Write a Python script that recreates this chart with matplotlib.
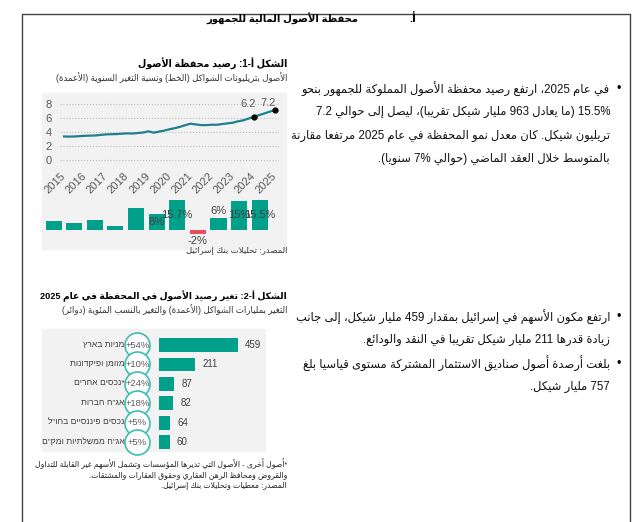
import re
import unicodedata as ud

import matplotlib
matplotlib.use('Agg')
import matplotlib.pyplot as plt
import numpy as np
from matplotlib import transforms
from matplotlib.lines import Line2D
from matplotlib.patches import Rectangle

plt.rcParams['font.family'] = ['Liberation Sans', 'DejaVu Sans']

# ---- data: figure A-1 (portfolio balance, trillion NIS, quarterly) ----
years = list(range(2015, 2026))
line_t = np.arange(2015, 2025.01, 0.25)
line_vals = [3.35, 3.33, 3.35, 3.40,
             3.45, 3.47, 3.50, 3.58,
             3.65, 3.68, 3.70, 3.76,
             3.80, 3.78, 3.85, 3.92,
             4.10, 3.90, 4.05, 4.20,
             4.40, 4.55, 4.75, 5.00,
             5.20, 5.10, 5.00, 5.00,
             5.05, 5.05, 5.15, 5.25,
             5.35, 5.55, 5.70, 5.95,
             6.20, 6.45, 6.70, 6.95,
             7.20]
marked_years = [2024, 2025]
marked_vals = [6.2, 7.2]
growth = [4.5, 3.5, 5.2, 2.0, 11.2, 8, 15.7, -2, 6, 15, 15.5]
growth_labels = ['', '', '', '', '', '8%', '15.7%', '-2%', '6%', '15%', '15.5%']

# ---- data: figure A-2 (change in 2025) ----
cats = ['מניות בארץ', 'מזומן ופיקדונות', 'נכסים אחרים', 'אג"ח חברות',
        'נכסים פיננסיים בחו"ל', 'אג"ח ממשלתיות ומק"ם']
cat_star = ['', '', '*', '', '', '']
change_bn = [459, 211, 87, 82, 64, 60]
change_pct = ['+54%', '+10%', '+24%', '+18%', '+5%', '+5%']

# ---- texts ----
header_no = 'أ.'
header = 'محفظة الأصول المالية للجمهور'
t1 = 'الشكل أ-1: رصيد محفظة الأصول'
s1 = 'الأصول بتريليونات الشواكل (الخط) ونسبة التغير السنوية (الأعمدة)'
src1 = 'المصدر: تحليلات بنك إسرائيل'
t2 = 'الشكل أ-2: تغير رصيد الأصول في المحفظة في عام 2025'
s2 = 'التغير بمليارات الشواكل (الأعمدة) والتغير بالنسب المئوية (دوائر)'
notes2 = ['*أصول أخرى - الأصول التي تديرها المؤسسات وتشمل الأسهم غير القابلة للتداول',
          'والقروض ومحافظ الرهن العقاري وحقوق العقارات والمشتقات.',
          'المصدر: معطيات وتحليلات بنك إسرائيل.']
para1 = ['في عام 2025، ارتفع رصيد محفظة الأصول المملوكة للجمهور بنحو',
         '15.5% (ما يعادل 963 مليار شيكل تقرَيباً)، ليصل إلى حوالي 7.2',
         'تريليون شيكل. كان معدل نمو المحفظة في عام 2025 مرتفعاً مقارنة',
         'بالمتوسط خلال العقد الماضي (حوالي 7% سنوياً).']
para2 = ['ارتفع مكون الأسهم في إسرائيل بمقدار 459 مليار شيكل، إلى جانب',
         'زيادة قدرها 211 مليار شيكل تقريباً في النقد والودائع.']
para3 = ['بلغت أرصدة أصول صناديق الاستثمار المشتركة مستوى قياسياً بلغ',
         '757 مليار شيكل.']

# arabic shaping (presentation forms) + simple right-to-left ordering
FORMS, LIGS = {}, {}
for cp in range(0xFE70, 0xFEFD):
    d = ud.decomposition(chr(cp)).split()
    if len(d) < 2 or not d[0].startswith('<'):
        continue
    base = ''.join(chr(int(h, 16)) for h in d[1:])
    (FORMS if len(base) == 1 else LIGS).setdefault(base, {})[d[0][1:-1]] = chr(cp)


def shape(s):
    s = [c for c in s if ud.category(c) != 'Mn']
    dual = lambda c: c in FORMS and 'initial' in FORMS[c]
    joins = lambda c: c in FORMS and 'final' in FORMS[c]
    out, i = [], 0
    while i < len(s):
        c = s[i]
        if c not in FORMS:
            out.append(c)
            i += 1
            continue
        p = i > 0 and dual(s[i - 1]) and joins(c)
        if c == 'ل' and i + 1 < len(s) and ('ل' + s[i + 1]) in LIGS:
            out.append(LIGS['ل' + s[i + 1]]['final' if p else 'isolated'])
            i += 2
            continue
        n = i + 1 < len(s) and dual(c) and joins(s[i + 1])
        form = {(1, 1): 'medial', (1, 0): 'final', (0, 1): 'initial', (0, 0): 'isolated'}[(int(p), int(n))]
        out.append(FORMS[c].get(form, FORMS[c]['isolated']))
        i += 1
    return ''.join(out)


NUM = r'\d+(?:[.,]\d+)*%?'
MIRROR = str.maketrans('()', ')(')


def rtl(s):
    parts = re.split('(' + NUM + ')', s)
    return ''.join(p if re.fullmatch(NUM, p) else shape(p)[::-1].translate(MIRROR)
                   for p in reversed(parts))


W, H = 640, 522
fig = plt.figure(figsize=(W / 100, H / 100), dpi=100)


def fx(x):
    return x / W


def fy(y):
    return 1 - y / H


def box(x0, y0, x1, y1):
    return [fx(x0), fy(y1), (x1 - x0) / W, (y1 - y0) / H]


def txt(x, y, s, **kw):
    kw.setdefault('ha', 'right')
    kw.setdefault('va', 'center')
    fig.text(fx(x), fy(y), rtl(s), **kw)


grey = '#595959'
teal = '#00a08a'

# page frame
fig.add_artist(Line2D([fx(22), fx(22), fx(630), fx(630)], [0, fy(14), fy(14), 0],
                      color='#444444', lw=1, transform=fig.transFigure))
txt(416, 19, header_no, fontsize=8, fontweight='bold')
txt(358, 19, header, fontsize=7.2, fontweight='bold')

# text column
for lines, y0 in [(para1, 89), (para2, 317), (para3, 364)]:
    txt(621, y0, '•', fontsize=9)
    for k, line in enumerate(lines):
        txt(610, y0 + k * 23.3, line, fontsize=8.3, color='#111111')

# ---- figure A-1 ----
txt(287, 64, t1, fontsize=6.9, fontweight='bold')
txt(287, 78, s1, fontsize=6.2, color='#333333')
fig.add_artist(Rectangle((fx(42), fy(249)), (286 - 42) / W, (249 - 93) / H,
                         transform=fig.transFigure, color='#f2f2f2', zorder=0))

ax1 = fig.add_axes(box(59.8, 101, 279.2, 161.6))
ax1.set_facecolor('none')
ax1.plot(line_t, line_vals, color='#1f7f8f', lw=1.6)
ax1.scatter(marked_years, marked_vals, color='black', s=12, zorder=3)
for xv, yv, dx, dy in zip(marked_years, marked_vals, [-6, -7], [13, 7]):
    ax1.annotate(f'{yv:.1f}', (xv, yv), xytext=(dx, dy), textcoords='offset pixels',
                 ha='center', va='center', fontsize=8, color=grey)
ax1.set_xlim(2014.8, 2025.2)
ax1.set_ylim(-0.3, 8.5)
ax1.set_yticks([0, 2, 4, 6, 8])
ax1.set_xticks(years)
ax1.set_xticklabels(years, rotation=45, ha='right', va='center', rotation_mode='anchor')
ax1.tick_params(length=0, labelsize=8, labelcolor=grey)
ax1.tick_params(axis='x', pad=9)
ax1.tick_params(axis='y', pad=6)
ax1.grid(axis='y', linestyle=':', color='#bdbdbd', lw=0.8)
ax1.grid(axis='x', visible=False)
for sp in ax1.spines.values():
    sp.set_visible(False)

ax2 = fig.add_axes(box(43.3, 187.3, 270, 245.5))
ax2.set_facecolor('none')
ax2.bar(range(len(growth)), growth, width=0.78,
        color=[teal if v >= 0 else '#e84c5a' for v in growth])
for i, (v, lab) in enumerate(zip(growth, growth_labels)):
    if not lab:
        continue
    yl = v / 2 if v >= 7 else (v + 4 if v > 0 else v - 3.5)
    ax2.text(i, yl, lab, ha='center', va='center', fontsize=8, color='#404040', zorder=5)
ax2.set_xlim(-0.5, len(growth) - 0.5)
ax2.set_ylim(-8, 22)
ax2.axis('off')
txt(287, 251, src1, fontsize=6.1, color='#333333')

# ---- figure A-2 ----
txt(287, 296, t2, fontsize=6.6, fontweight='bold')
txt(287, 310, s2, fontsize=6.2, color='#333333')
fig.add_artist(Rectangle((fx(42), fy(451)), (265 - 42) / W, (451 - 329) / H,
                         transform=fig.transFigure, color='#f2f2f2', zorder=0))

ax3 = fig.add_axes(box(159.4, 335.3, 262, 452))
ax3.set_facecolor('none')
rows = np.arange(len(cats))
ax3.barh(rows, change_bn, height=0.71, color=teal)
circ = transforms.offset_copy(ax3.transData, fig=fig, x=-22, y=0, units='dots')
ax3.scatter(np.zeros(len(cats)), rows, s=324, facecolor='white', edgecolor='#3dbfad',
            lw=1.2, transform=circ, clip_on=False, zorder=3)
for i in rows:
    ax3.text(0, i, change_pct[i], transform=circ, ha='center', va='center',
             fontsize=6.8, color=grey, zorder=4)
    ax3.annotate(rtl(cats[i]) + cat_star[i], (0, i), xytext=(-35, 0), textcoords='offset pixels',
                 ha='right', va='center', fontsize=6.1, color='#404040')
    ax3.annotate(str(change_bn[i]), (change_bn[i], i), xytext=(7, 0), textcoords='offset pixels',
                 ha='left', va='center', fontsize=7, color='#404040')
ax3.set_xlim(0, 600)
ax3.set_ylim(len(cats) - 0.5, -0.5)
ax3.axis('off')
for k, line in enumerate(notes2):
    txt(287, 464 + k * 11, line, fontsize=5.6, color='#222222')

fig.savefig('out.png', dpi=100)
